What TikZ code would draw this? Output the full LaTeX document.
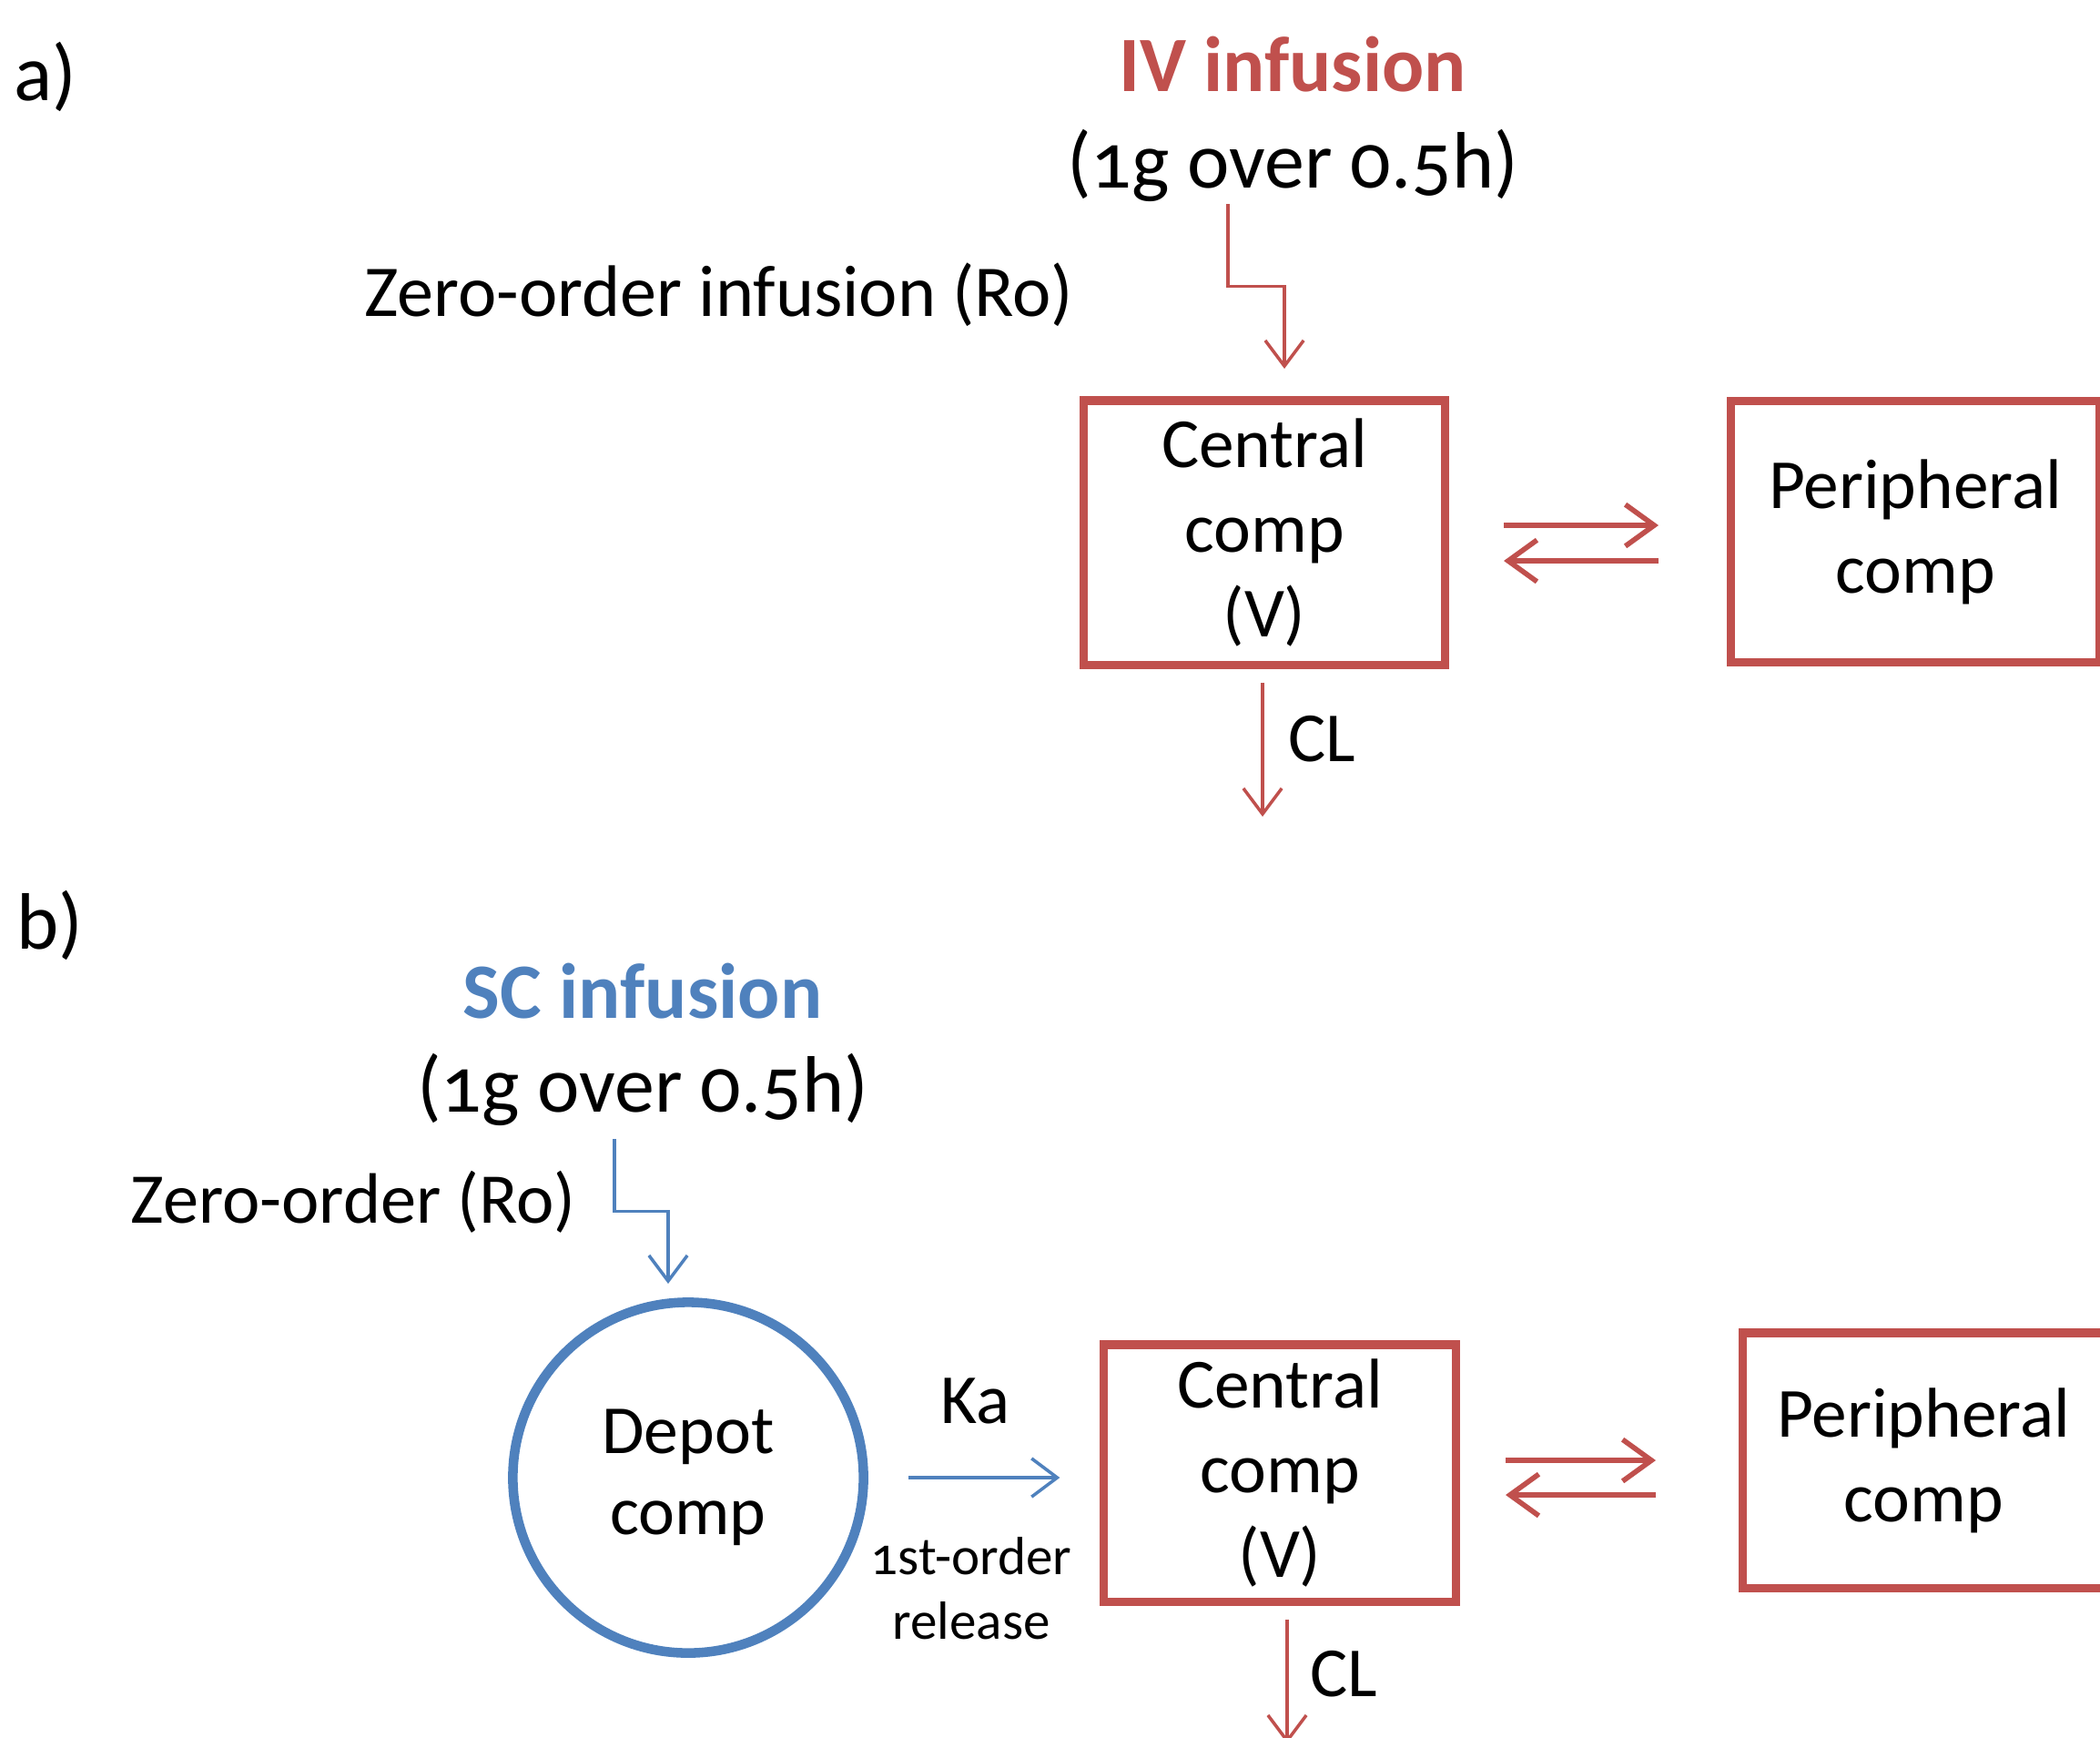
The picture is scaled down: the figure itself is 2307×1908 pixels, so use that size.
\documentclass[tikz,border=0pt]{standalone}
\usepackage{fontspec}
\setmainfont{Carlito}[Numbers=OldStyle]
\usetikzlibrary{arrows.meta, positioning, calc}
\definecolor{pkred}{RGB}{192,80,77}
\definecolor{pkblue}{RGB}{79,129,189}

\tikzset{
  comp/.style={draw=pkred, line width=2.6pt, align=center, inner sep=0pt,
    font=\fontsize{22pt}{26.4pt}\selectfont},
  depot/.style={circle, draw=pkblue, line width=3pt, minimum size=3.85cm,
    align=center, inner sep=0pt, font=\fontsize{21.5pt}{25.3pt}\selectfont},
  redarr/.style={draw=pkred, line width=1pt, -{Straight Barb[length=8pt,width=12pt]}},
  bluearr/.style={draw=pkblue, line width=1pt, -{Straight Barb[length=8pt,width=12pt]}},
  xarr/.style={draw=pkred, line width=1.6pt, -{Straight Barb[length=9pt,width=13pt]}},
  lbl/.style={font=\fontsize{22pt}{26.4pt}\selectfont, inner sep=0pt, anchor=base},
  small/.style={font=\fontsize{16.8pt}{20pt}\selectfont, inner sep=0pt, anchor=base},
  dose/.style={font=\fontsize{25pt}{30pt}\selectfont, inner sep=0pt, anchor=base},
  route/.style={font=\bfseries\fontsize{24.5pt}{29pt}\selectfont, inner sep=0pt, anchor=base},
}

\begin{document}
\begin{tikzpicture}[x=0.01cm, y=-0.01cm]
  \useasboundingbox (0,0) rectangle (2307,1908);
  \clip (0,0) rectangle (2307,1908);

  % a) IV infusion
  \node[dose, anchor=base west] (panelA) at (15,110) {a)};
  \node[route, text=pkred] (ivroute) at (1420,100) {IV infusion};
  \node[dose] (ivdose) at (1420,206) {(1g over 0.5h)};
  \node[lbl, font=\fontsize{22.8pt}{27pt}\selectfont] (ivorder) at (790,347)
    {Zero-order infusion (Ro)};
  \node[comp, minimum width=3.97cm, minimum height=2.90cm] (centralA) at (1389,585)
    {Central\\comp\\(V)};
  \node[comp, minimum width=4.05cm, minimum height=2.87cm] (periA) at (2104,584)
    {Peripheral\\comp};
  \coordinate (ivin) at (1349,224);
  \coordinate (ivout) at (1411,405);
  \draw[redarr] (ivin) |- ($(ivin)!.5!(ivout)$) -| (ivout);
  \draw[xarr] (1652,577) -- (1822,577);
  \draw[xarr] (1822,616) -- (1652,616);
  \coordinate (clA) at (1387,897);
  \draw[redarr, shorten <=0.15cm] (centralA.south -| clA) -- (clA);
  \node[lbl, anchor=base west] (clAlbl) at (1415,836) {CL};

  % b) SC infusion
  \node[dose, anchor=base west] (panelB) at (18,1042) {b)};
  \node[route, text=pkblue] (scroute) at (706,1118) {SC infusion};
  \node[dose] (scdose) at (706,1221) {(1g over 0.5h)};
  \node[lbl, font=\fontsize{22.3pt}{27pt}\selectfont] (scorder) at (388,1343)
    {Zero-order (Ro)};
  \node[depot] (depot) at (756,1623) {Depot\\comp};
  \node[comp, minimum width=3.86cm, minimum height=2.82cm] (centralB) at (1406,1618)
    {Central\\comp\\(V)};
  \node[comp, minimum width=3.97cm, minimum height=2.80cm] (periB) at (2113,1604)
    {Peripheral\\comp};
  \coordinate (scin) at (675,1251);
  \coordinate (scout) at (734,1410);
  \draw[bluearr] (scin) |- ($(scin)!.5!(scout)$) -| (scout);
  \draw[bluearr, shorten <=0.44cm, shorten >=0.44cm] (depot.east) -- (depot.east -| centralB.west);
  \node[lbl] (ka) at (1071,1563) {Ka};
  \node[small] (release) at (1067,1729) {1st-order};
  \node[small] (release2) at (1067,1800) {release};
  \draw[xarr] (1654,1604) -- (1819,1604);
  \draw[xarr] (1819,1642) -- (1654,1642);
  \coordinate (clB) at (1414,1915);
  \draw[redarr, shorten <=0.15cm] (centralB.south -| clB) -- (clB);
  \node[lbl, anchor=base west] (clBlbl) at (1439,1863) {CL};
\end{tikzpicture}
\end{document}
